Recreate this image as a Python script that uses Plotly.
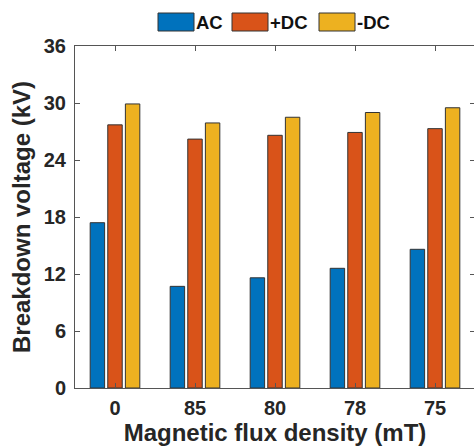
import plotly.graph_objects as go

categories = ["0", "85", "80", "78", "75"]
ac = [17.4, 10.7, 11.6, 12.6, 14.6]
pdc = [27.7, 26.2, 26.6, 26.9, 27.3]
ndc = [29.9, 27.9, 28.5, 29.0, 29.5]
series_names = ["AC", "+DC", "-DC"]
colors = ["#0072BD", "#D95319", "#EDB120"]
yticks = [0, 6, 12, 18, 24, 30, 36]

FONT = "Arial, Liberation Sans, sans-serif"
TXT = "#262626"

fig = go.Figure()
for name, vals, col in zip(series_names, [ac, pdc, ndc], colors):
    fig.add_trace(go.Bar(x=categories, y=vals, name=name, marker_color=col,
                         marker_line_color="#333333", marker_line_width=1,
                         showlegend=False))

fig.update_layout(
    width=476, height=447,
    margin=dict(l=75, r=1, t=46, b=59),
    barmode="group", bargap=0.34, bargroupgap=0.18,
    plot_bgcolor="white", paper_bgcolor="white",
    font=dict(family=FONT, color=TXT),
)
fig.update_xaxes(
    type="category", range=[-0.5, 4.5],
    tickvals=categories, ticktext=[f"<b>{c}</b>" for c in categories],
    showline=True, linecolor="#555555", linewidth=1, mirror="ticks",
    ticks="inside", ticklen=5, tickcolor="#555555", ticklabelstandoff=2,
    tickfont=dict(family=FONT, size=20, color=TXT),
    title=dict(text="<b>Magnetic flux density (mT)</b>", font=dict(family=FONT, size=24, color=TXT), standoff=2),
    showgrid=False,
)
fig.update_yaxes(
    range=[0, 36], tickvals=yticks, ticktext=[f"<b>{v}</b>" for v in yticks],
    showline=True, linecolor="#555555", linewidth=1, mirror="ticks",
    ticks="inside", ticklen=5, tickcolor="#555555", ticklabelstandoff=4,
    tickfont=dict(family=FONT, size=20, color=TXT),
    title=dict(text="<b>Breakdown voltage (kV)</b>", font=dict(family=FONT, size=24, color=TXT), standoff=6),
    showgrid=False, zeroline=False,
)

# legend drawn in paper coordinates
legend_x = [158, 232, 319]
for xpx, name, col in zip(legend_x, series_names, colors):
    fig.add_shape(type="rect", xref="paper", yref="paper",
                  x0=(xpx - 75) / 400, x1=(xpx + 36 - 75) / 400,
                  y0=(388 - 31) / 342, y1=(388 - 13) / 342,
                  fillcolor=col, line=dict(color="#333333", width=1))
    fig.add_annotation(xref="paper", yref="paper", x=(xpx + 36 - 75) / 400,
                       y=(388 - 22) / 342, text=f"<b>{name}</b>", showarrow=False,
                       xanchor="left", yanchor="middle",
                       font=dict(family=FONT, size=18.5, color="#111111"))

fig.write_html("out.html")
